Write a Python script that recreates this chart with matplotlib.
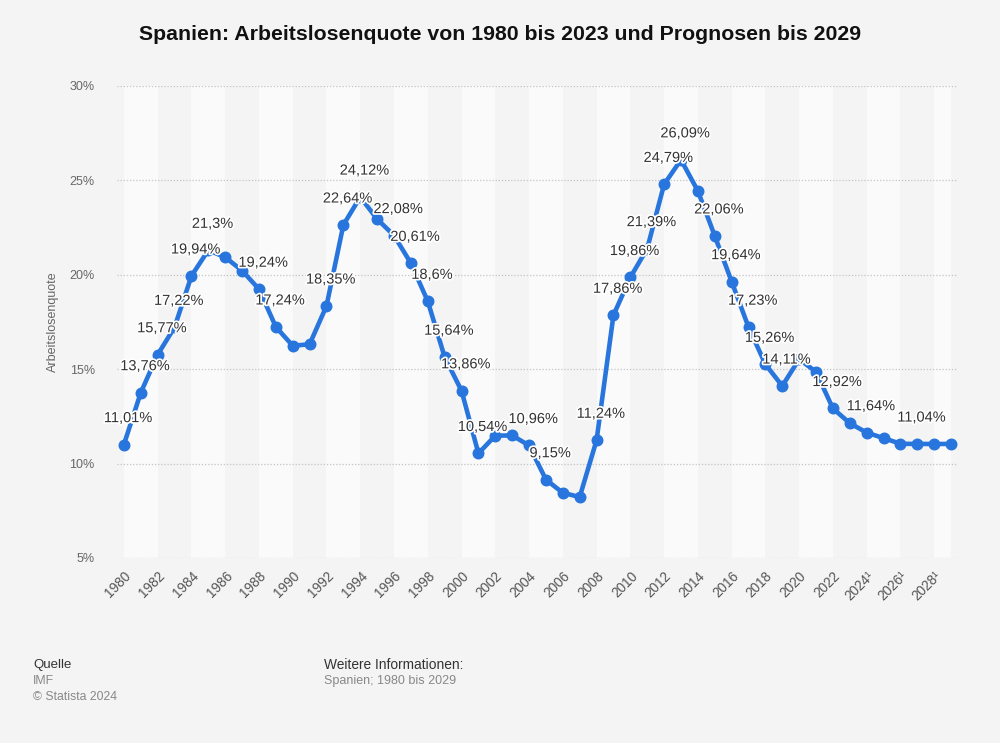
import matplotlib
matplotlib.use("Agg")
import matplotlib.pyplot as plt
import matplotlib.patheffects as pe

years = list(range(1980, 2030))
rates = [11.01, 13.76, 15.77, 17.22, 19.94, 21.3, 20.93, 20.22, 19.24, 17.24,
         16.24, 16.32, 18.35, 22.64, 24.12, 22.95, 22.08, 20.61, 18.6, 15.64,
         13.86, 10.54, 11.48, 11.49, 10.96, 9.15, 8.45, 8.23, 11.24, 17.86,
         19.86, 21.39, 24.79, 26.09, 24.44, 22.06, 19.64, 17.23, 15.26, 14.11,
         15.53, 14.86, 12.92, 12.14, 11.64, 11.35, 11.05, 11.04, 11.04, 11.04]
labeled_years = [1980, 1981, 1982, 1983, 1984, 1985, 1988, 1989, 1992, 1993, 1994,
                 1996, 1997, 1998, 1999, 2000, 2001, 2004, 2005, 2008, 2009, 2010,
                 2011, 2012, 2013, 2015, 2016, 2017, 2018, 2019, 2022, 2024, 2027]
xtick_years = list(range(1980, 2029, 2))
xtick_labels = [str(y) + ("\u00b9" if y >= 2024 else "") for y in xtick_years]
yticks = [5, 10, 15, 20, 25, 30]
ytick_labels = ["5%", "10%", "15%", "20%", "25%", "30%"]

title = "Spanien: Arbeitslosenquote von 1980 bis 2023 und Prognosen bis 2029"
ylabel = "Arbeitslosenquote"

plt.rcParams['font.family'] = ['Liberation Sans', 'DejaVu Sans']

BG = "#f4f4f4"
fig = plt.figure(figsize=(10, 7.43), dpi=100, facecolor=BG)
ax = fig.add_axes([0.117, 0.249, 0.841, 0.6353])
ax.set_facecolor(BG)

# alternating bands
for start in range(1980, 2030, 4):
    ax.axvspan(start, min(start + 2, 2029), color="#fafafa", zorder=0, lw=0)

ax.set_xlim(1979.59, 2029.41)
ax.set_ylim(5, 30)

for yv in yticks:
    ax.axhline(yv, color="#c4c4c4", lw=0.9, ls=(0, (1, 1.5)), zorder=1)

ax.plot(years, rates, color="#2876dd", lw=3.3, marker="o", markersize=7.6,
        solid_joinstyle="round", zorder=3, clip_on=False)

for y, v in zip(years, rates):
    if y in labeled_years:
        txt = f"{v:g}".replace(".", ",") + "%"
        ax.annotate(txt, (y, v), xytext=(3, 19), textcoords="offset points",
                    ha="center", va="center", fontsize=10.5, color="#333333",
                    path_effects=[pe.withStroke(linewidth=2.5, foreground="white")],
                    zorder=4)

for s in ax.spines.values():
    s.set_visible(False)

ax.set_yticks(yticks)
ax.set_yticklabels(ytick_labels, fontsize=9, color="#666666")
ax.set_xticks(xtick_years)
ax.set_xticklabels(xtick_labels, fontsize=9.8, color="#555555", rotation=45,
                   ha="right", va="top", rotation_mode="anchor")
ax.tick_params(axis="both", length=0)
ax.tick_params(axis="y", pad=16)
ax.tick_params(axis="x", pad=8)

fig.text(0.053, 0.567, ylabel, rotation=90, ha="center", va="center",
         fontsize=9, color="#666666")

fig.text(0.5, 0.953, title, ha="center", va="center", fontsize=15.3,
         fontweight="bold", color="#111111")

fig.text(0.033, 0.105, "Quelle", fontsize=9.5, color="#333333", va="center")
fig.text(0.033, 0.0835, "IMF", fontsize=8.8, color="#888888", va="center")
fig.text(0.033, 0.062, "\u00a9 Statista 2024", fontsize=8.8, color="#888888", va="center")
fig.text(0.324, 0.105, "Weitere Informationen:", fontsize=9.9, color="#333333", va="center")
fig.text(0.324, 0.0835, "Spanien; 1980 bis 2029", fontsize=9, color="#888888", va="center")

fig.savefig("out.png", dpi=100, facecolor=BG)
